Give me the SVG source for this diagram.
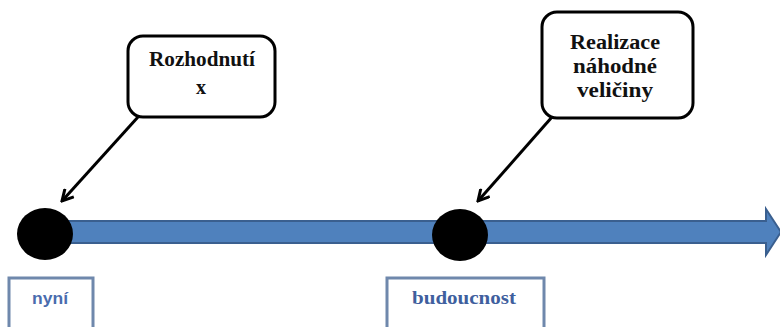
<svg xmlns="http://www.w3.org/2000/svg" width="780" height="327" viewBox="0 0 780 327">
<defs>
<marker id="ah" markerWidth="14" markerHeight="14" viewBox="0 0 14 14" refX="12" refY="7" orient="auto" markerUnits="userSpaceOnUse">
<polyline points="1,1 12,7 1,13" fill="none" stroke="#000" stroke-width="3" stroke-linejoin="miter"/>
</marker>
<style>
.callout{fill:#fff;stroke:#000;stroke-width:3}
.ctext{font-family:"Liberation Serif",serif;font-weight:bold;font-size:20px;fill:#111;text-anchor:middle}
.tbox{fill:#fff;stroke:#6f88ac;stroke-width:3}
.dot{fill:#000}
.conn{stroke:#000;stroke-width:3;fill:none}
</style>
</defs>
<rect width="780" height="327" fill="#fff"/>
<g id="timeline">
<polygon points="60,221 766,221 766,209 781,232 766,255 766,243 60,243" fill="#4f81bd" stroke="#3a5f8f" stroke-width="2"/>
</g>
<g id="node-nyni-dot"><ellipse class="dot" cx="45" cy="234" rx="28" ry="26"/></g>
<g id="node-budoucnost-dot"><ellipse class="dot" cx="460" cy="235" rx="28" ry="26"/></g>
<g id="node-rozhodnuti">
<rect class="callout" x="128" y="36" width="147" height="81" rx="15"/>
<text class="ctext" x="202" y="66" textLength="106" lengthAdjust="spacingAndGlyphs">Rozhodnutí</text>
<text class="ctext" x="201" y="94">x</text>
</g>
<g id="node-realizace">
<rect class="callout" x="542" y="12" width="151" height="106" rx="15"/>
<text class="ctext" x="615" y="49" textLength="90" lengthAdjust="spacingAndGlyphs">Realizace</text>
<text class="ctext" x="615" y="73" textLength="84" lengthAdjust="spacingAndGlyphs">náhodné</text>
<text class="ctext" x="615" y="97" textLength="76" lengthAdjust="spacingAndGlyphs">veličiny</text>
</g>
<g id="node-nyni">
<rect class="tbox" x="9" y="278" width="84" height="52"/>
<text x="50" y="304" font-family="'Liberation Sans',sans-serif" font-weight="bold" font-size="17" fill="#4a6cae" text-anchor="middle" textLength="36" lengthAdjust="spacingAndGlyphs">nyní</text>
</g>
<g id="node-budoucnost">
<rect class="tbox" x="387" y="278" width="157" height="52"/>
<text x="464" y="304" font-family="'Liberation Serif',serif" font-weight="bold" font-size="18" fill="#3f5f9e" text-anchor="middle" textLength="104" lengthAdjust="spacingAndGlyphs">budoucnost</text>
</g>
<g id="connectors">
<line class="conn" x1="138" y1="117" x2="62" y2="201" marker-end="url(#ah)"/>
<line class="conn" x1="552" y1="117" x2="478" y2="201" marker-end="url(#ah)"/>
</g>
</svg>
